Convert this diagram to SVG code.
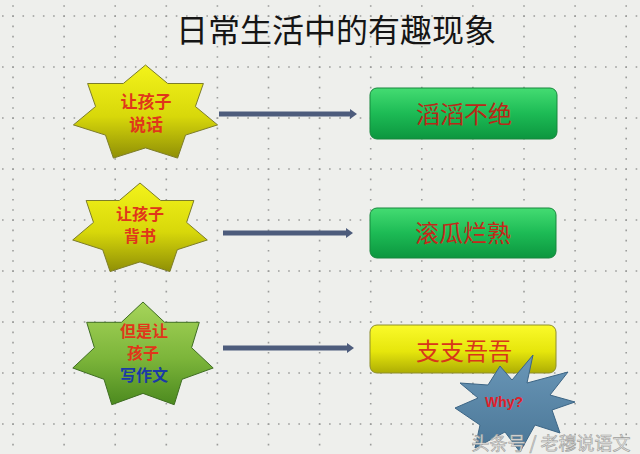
<svg xmlns="http://www.w3.org/2000/svg" width="640" height="454" viewBox="0 0 640 454">
<defs>
<style>
.grid line{stroke:#9c9d9b;stroke-width:1.6;}
.gh{stroke-dasharray:1.6 8.62;}
.gv{stroke-dasharray:1.6 8.6;}
.star{stroke-width:1;stroke-linejoin:miter;}
.sy{fill:url(#gYellowStar);stroke:#7d7d2a;}
.sg{fill:url(#gGreenStar);stroke:#3f6e22;}
.st{font-family:"Noto Sans CJK SC","Noto Sans",sans-serif;font-weight:bold;font-size:17px;text-anchor:middle;fill:#e0361a;}
.st2{font-size:16px;}
.blue{fill:#1b3aa6;}
.box{stroke-width:1;}
.bg{fill:url(#gGreenBox);stroke:#17873c;}
.by{fill:url(#gYellowBox);stroke:#8e8e2c;}
.bt{font-family:"Noto Sans CJK SC","Noto Sans",sans-serif;font-size:24px;text-anchor:middle;fill:#c4281a;}
.arrow{stroke:#4d5c7c;stroke-width:5;fill:none;}
</style>
<linearGradient id="gYellowStar" x1="0" y1="0" x2="0" y2="1">
<stop offset="0" stop-color="#f3f31a"/><stop offset="0.55" stop-color="#d8d80a"/><stop offset="1" stop-color="#8f8f06"/>
</linearGradient>
<linearGradient id="gGreenStar" x1="0" y1="0" x2="0" y2="1">
<stop offset="0" stop-color="#a6d45a"/><stop offset="0.55" stop-color="#7cb53a"/><stop offset="1" stop-color="#4c8a1f"/>
</linearGradient>
<linearGradient id="gGreenBox" x1="0" y1="0" x2="0" y2="1">
<stop offset="0" stop-color="#44dc72"/><stop offset="0.5" stop-color="#1dbb55"/><stop offset="1" stop-color="#0c963f"/>
</linearGradient>
<linearGradient id="gYellowBox" x1="0" y1="0" x2="0" y2="1">
<stop offset="0" stop-color="#fafa2a"/><stop offset="0.55" stop-color="#e6e60c"/><stop offset="1" stop-color="#adad04"/>
</linearGradient>
<linearGradient id="gWhy" x1="0" y1="0" x2="0" y2="1">
<stop offset="0" stop-color="#6a97b8"/><stop offset="1" stop-color="#4a7696"/>
</linearGradient>
<marker id="ah" markerUnits="userSpaceOnUse" markerWidth="8" markerHeight="11" refX="0" refY="5" orient="auto">
<path d="M0,0 L7,5 L0,10 Z" fill="#4d5c7c"/>
</marker>
</defs>

<rect x="0" y="0" width="640" height="454" fill="#eeefec"/>

<g class="grid">
<line class="gh" x1="-8.2" y1="16" x2="660" y2="16"/>
<line class="gh" x1="-8.2" y1="67" x2="660" y2="67"/>
<line class="gh" x1="-8.2" y1="118" x2="660" y2="118"/>
<line class="gh" x1="-8.2" y1="169" x2="660" y2="169"/>
<line class="gh" x1="-8.2" y1="220" x2="660" y2="220"/>
<line class="gh" x1="-8.2" y1="271" x2="660" y2="271"/>
<line class="gh" x1="-8.2" y1="322" x2="660" y2="322"/>
<line class="gh" x1="-8.2" y1="373" x2="660" y2="373"/>
<line class="gh" x1="-8.2" y1="424" x2="660" y2="424"/>
<line class="gv" x1="13" y1="-5" x2="13" y2="460"/>
<line class="gv" x1="64.1" y1="-5" x2="64.1" y2="460"/>
<line class="gv" x1="115.2" y1="-5" x2="115.2" y2="460"/>
<line class="gv" x1="166.3" y1="-5" x2="166.3" y2="460"/>
<line class="gv" x1="217.4" y1="-5" x2="217.4" y2="460"/>
<line class="gv" x1="268.5" y1="-5" x2="268.5" y2="460"/>
<line class="gv" x1="319.6" y1="-5" x2="319.6" y2="460"/>
<line class="gv" x1="370.7" y1="-5" x2="370.7" y2="460"/>
<line class="gv" x1="421.8" y1="-5" x2="421.8" y2="460"/>
<line class="gv" x1="472.9" y1="-5" x2="472.9" y2="460"/>
<line class="gv" x1="524" y1="-5" x2="524" y2="460"/>
<line class="gv" x1="575.1" y1="-5" x2="575.1" y2="460"/>
<line class="gv" x1="626.2" y1="-5" x2="626.2" y2="460"/>
</g>

<text id="title" x="336" y="42" font-family="'Noto Sans CJK SC','Noto Sans',sans-serif" font-size="32" fill="#151515" text-anchor="middle">日常生活中的有趣现象</text>

<g id="connectors">
<line class="arrow" x1="219" y1="114" x2="350" y2="114" marker-end="url(#ah)"/>
<line class="arrow" x1="223" y1="233" x2="346" y2="233" marker-end="url(#ah)"/>
<line class="arrow" x1="223" y1="348" x2="347" y2="348" marker-end="url(#ah)"/>
</g>

<g id="star1">
<polygon class="star sy" points="145.5,65 167.7,83.5 203.4,83.5 195.4,106.5 217.6,124.9 185.5,135.1 177.6,158.1 145.5,147.9 113.4,158.1 105.5,135.1 73.4,124.9 95.6,106.5 87.6,83.5 123.3,83.5"/>
<text class="st" x="146" y="108">让孩子</text>
<text class="st" x="146" y="131">说话</text>
</g>

<g id="star2">
<polygon class="star sy" points="140,183 160.7,200.5 193.9,200.5 186.6,222.4 207.3,240 177.3,249.7 169.9,271.6 140,261.9 110.1,271.6 102.7,249.7 72.7,240 93.5,222.4 86.1,200.5 119.3,200.5"/>
<text class="st st2" x="140" y="220">让孩子</text>
<text class="st st2" x="140" y="242">背书</text>
</g>

<g id="star3">
<polygon class="star sg" points="143,302 164.6,322.3 199.3,322.3 191.6,347.7 213.2,368 182,379.3 174.2,404.7 143,393.4 111.8,404.7 104,379.3 72.8,368 94.4,347.7 86.7,322.3 121.4,322.3"/>
<text class="st st2" x="144" y="337">但是让</text>
<text class="st st2" x="143" y="359">孩子</text>
<text class="st st2 blue" x="144" y="381">写作文</text>
</g>

<g id="box1">
<rect class="box bg" x="370" y="88" width="187" height="51" rx="7"/>
<text class="bt" x="464" y="123" style="fill:#b82818">滔滔不绝</text>
</g>

<g id="box2">
<rect class="box bg" x="370" y="208" width="186" height="50" rx="7"/>
<text class="bt" x="463" y="241.5">滚瓜烂熟</text>
</g>

<g id="box3">
<rect class="box by" x="370" y="325" width="186" height="48" rx="7"/>
<text class="bt" x="464" y="360" style="fill:#d8361a">支支吾吾</text>
</g>

<g id="why">
<polygon points="533,355 527,383 568,372 550,395 575,402 552,410 560,433 535,425 520,452 505,432 475,448 480,425 455,408 478,398 460,383 488,385 500,366 512,380" fill="url(#gWhy)" stroke="#3c6585" stroke-width="1"/>
<text x="504" y="407" font-family="'Liberation Sans',Arial,sans-serif" font-weight="bold" font-size="14" fill="#e0202a" text-anchor="middle">Why?</text>
</g>

<text id="watermark" x="551" y="450" font-family="'Noto Sans CJK SC','Noto Sans',sans-serif" font-size="18" fill="#e4e4e2" stroke="#9e9e9c" stroke-width="0.6" text-anchor="middle">头条号 / 老穆说语文</text>
</svg>
